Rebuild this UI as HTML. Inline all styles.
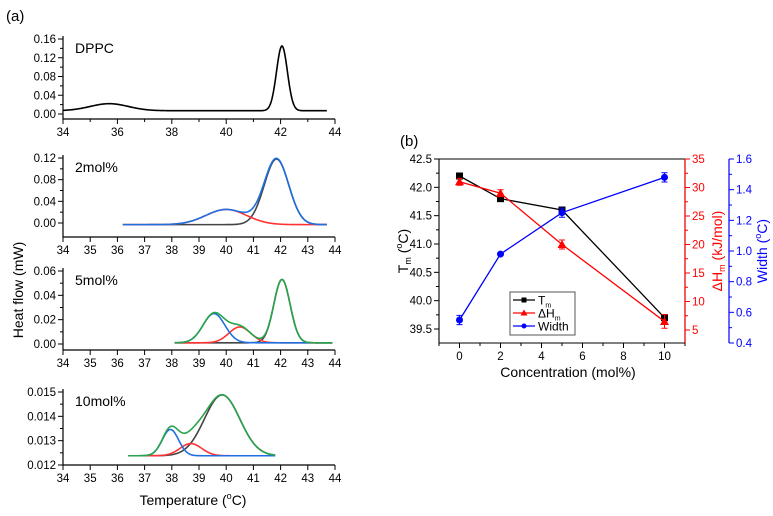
<!DOCTYPE html>
<html><head><meta charset="utf-8"><style>
html,body{margin:0;padding:0;background:#fff;}
svg{display:block;font-family:"Liberation Sans",Arial,sans-serif;}
</style></head><body>
<svg id="fig" width="773" height="516" viewBox="0 0 773 516" xmlns="http://www.w3.org/2000/svg">
<text x="6" y="21" font-size="15">(a)</text>
<text x="400" y="146" font-size="15">(b)</text>
<text transform="translate(23,290) rotate(-90)" text-anchor="middle" font-size="14">Heat flow (mW)</text>
<text x="193" y="505" text-anchor="middle" font-size="14">Temperature (<tspan font-size="9" dy="-6">o</tspan><tspan dy="6">C)</tspan></text>
<text x="568" y="377" text-anchor="middle" font-size="14">Concentration (mol%)</text>
<text transform="translate(408,251) rotate(-90)" text-anchor="middle" font-size="14">T<tspan font-size="9" dy="3">m</tspan><tspan dy="-3"> (</tspan><tspan font-size="9" dy="-6">o</tspan><tspan dy="6">C)</tspan></text>
<text transform="translate(722,251) rotate(-90)" text-anchor="middle" font-size="14" fill="#f00">ΔH<tspan font-size="9" dy="3">m</tspan><tspan dy="-3"> (kJ/mol)</tspan></text>
<text transform="translate(767,251) rotate(-90)" text-anchor="middle" font-size="14" fill="#00f">Width (<tspan font-size="9" dy="-6">o</tspan><tspan dy="6">C)</tspan></text>
</svg>
<script>
const NS='http://www.w3.org/2000/svg';
const svg=document.getElementById('fig');
function mk(tag,attrs,parent){const e=document.createElementNS(NS,tag);for(const k in attrs)e.setAttribute(k,attrs[k]);(parent||svg).appendChild(e);return e;}

// ---- Panel (a) data: Gaussian components [center, amplitude, sigma] ----
const dppcBaseline=0.007;
const dppcPeaks=[[35.7,0.015,0.7],[42.05,0.138,0.2]];
const dppcRange=[34,43.7];
const p2Baseline=-0.003;
const p2Red=[40.0,0.028,0.75];
const p2Gray=[41.85,0.121,0.45];
const p2Range=[36.2,43.7];
const p5Baseline=0.001;
const p5Blue=[39.55,0.024,0.4];
const p5Red=[40.5,0.013,0.4];
const p5Gray=[42.05,0.052,0.3];
const p5Range=[38.1,43.9];
const p10Baseline=0.01238;
const p10Blue=[37.95,0.00108,0.3];
const p10Red=[38.7,0.0005,0.4];
const p10Gray=[39.85,0.0025,0.65];
const p10Range=[36.4,41.8];

const dppcYTicks=['0.00','0.04','0.08','0.12','0.16'];
const p2YTicks=['0.00','0.04','0.08','0.12'];
const p5YTicks=['0.00','0.02','0.04','0.06'];
const p10YTicks=['0.012','0.013','0.014','0.015'];

const X0=63,X1=335;
function xs(t){return X0+(t-34)*(X1-X0)/10;}
function g(p,t){return p[1]*Math.exp(-Math.pow(t-p[0],2)/(2*p[2]*p[2]));}

function panel(name,yTop,yZero,vTop,vZero,axisY,yticks,xstep,label){
  const grp=mk('g',{});
  
  
  const ys=v=>yZero+(v-vZero)*(yTop-yZero)/(vTop-vZero);
  const ax=mk('path',{d:`M${X0},${yTop-3} V${axisY} H${X1}`,stroke:'#000','stroke-width':1.2,fill:'none'},grp);
  
  
  for(let t=34;t<=44;t+=1){
    const major=(t-34)%xstep===0;
    mk('line',{x1:xs(t),x2:xs(t),y1:axisY,y2:axisY+(major?5:3),stroke:'#000','stroke-width':1},grp);
    if(major){const tx=mk('text',{x:xs(t),y:axisY+17,'text-anchor':'middle','font-size':11.5},grp);tx.textContent=t;
      }
  }
  const dv=(vTop-vZero)/(yticks.length-1);
  yticks.forEach((lab,i)=>{
    const v=vZero+i*dv;
    mk('line',{x1:X0-5,x2:X0,y1:ys(v),y2:ys(v),stroke:'#000'},grp);
    if(i<yticks.length-1) mk('line',{x1:X0-3,x2:X0,y1:ys(v+dv/2),y2:ys(v+dv/2),stroke:'#000'},grp);
    const tx=mk('text',{x:X0-7,y:ys(v)+4,'text-anchor':'end','font-size':11.5},grp);tx.textContent=lab;
    
  });
  const lt=mk('text',{x:75,y:yTop+14,'font-size':14},grp);lt.textContent=label;
  
  return {grp,ys};
}
function curve(P,range,fn,color,nm){
  let d='';
  for(let t=range[0];t<=range[1]+1e-9;t+=0.02){d+=(d?'L':'M')+xs(t).toFixed(2)+','+P.ys(fn(t)).toFixed(2);}
  const p=mk('path',{d,stroke:color,'stroke-width':1.6,fill:'none'},P.grp);
  
  
}
let P=panel('panel-dppc',39,114,0.16,0,119,dppcYTicks,2,'DPPC');
curve(P,dppcRange,t=>dppcBaseline+g(dppcPeaks[0],t)+g(dppcPeaks[1],t),'#000','dppc-curve');
P=panel('panel-2mol',158,223,0.12,0,237,p2YTicks,1,'2mol%');
curve(P,p2Range,t=>p2Baseline+g(p2Gray,t),'#444','2mol-component-gray');
curve(P,p2Range,t=>p2Baseline+g(p2Red,t),'#f33','2mol-component-red');
curve(P,p2Range,t=>p2Baseline+g(p2Red,t)+g(p2Gray,t),'#1f6fe0','2mol-total-curve');
P=panel('panel-5mol',271,344,0.06,0,350,p5YTicks,1,'5mol%');
curve(P,p5Range,t=>p5Baseline+g(p5Gray,t),'#444','5mol-component-gray');
curve(P,p5Range,t=>p5Baseline+g(p5Red,t),'#f33','5mol-component-red');
curve(P,p5Range,t=>p5Baseline+g(p5Blue,t),'#1f6fe0','5mol-component-blue');
curve(P,p5Range,t=>p5Baseline+g(p5Blue,t)+g(p5Red,t)+g(p5Gray,t),'#2aa34a','5mol-total-curve');
P=panel('panel-10mol',392,465,0.015,0.012,465,p10YTicks,1,'10mol%');
curve(P,p10Range,t=>p10Baseline+g(p10Gray,t),'#444','10mol-component-gray');
curve(P,p10Range,t=>p10Baseline+g(p10Red,t),'#f33','10mol-component-red');
curve(P,p10Range,t=>p10Baseline+g(p10Blue,t),'#1f6fe0','10mol-component-blue');
curve(P,p10Range,t=>p10Baseline+g(p10Blue,t)+g(p10Red,t)+g(p10Gray,t),'#2aa34a','10mol-total-curve');

// ---- Panel (b) ----
const conc=[0,2,5,10];
const tmVals=[42.2,41.8,41.6,39.7];
const dhVals=[31,29,20,6.5];
const widthVals=[0.55,0.98,1.25,1.48];
const tmErr=[0.04,0.03,0.03,0.03];
const dhErr=[0.6,0.6,0.8,1.2];
const widthErr=[0.03,0.01,0.03,0.03];
const xTicksB=[0,2,4,6,8,10];
const tmTicks=['39.5','40.0','40.5','41.0','41.5','42.0','42.5'];
const dhTicks=['5','10','15','20','25','30','35'];
const wTicks=['0.4','0.6','0.8','1.0','1.2','1.4','1.6'];

const BL=439,BR=685,BT=159,BB=343,BW=729;
const bx=c=>BL+(c+1)*(BR-BL)/12;
const yTm=v=>329+(v-39.5)*(159-329)/3;
const yDh=v=>330+(v-5)*(159-330)/30;
const yW=v=>343+(v-0.4)*(159-343)/1.2;
const gb=mk('g',{});


mk('path',{d:`M${BL},${BB} V${BT} H${BR} V${BB} H${BL}`,stroke:'#000','stroke-width':1.1,fill:'none'},gb);
mk('line',{x1:BR,x2:BR,y1:BT,y2:BB,stroke:'#f00','stroke-width':1.2},gb);
mk('line',{x1:BW,x2:BW,y1:BT,y2:BB,stroke:'#00f','stroke-width':1.2},gb);
for(let c=-1;c<=11;c++){
  const major=xTicksB.includes(c);
  mk('line',{x1:bx(c),x2:bx(c),y1:BB,y2:BB+(major?5:3),stroke:'#000'},gb);
  if(major){const t=mk('text',{x:bx(c),y:BB+17,'text-anchor':'middle','font-size':11.5},gb);t.textContent=c;
    }
}
tmTicks.forEach((l,i)=>{const v=39.5+i*0.5,y=yTm(v);
  mk('line',{x1:BL-5,x2:BL,y1:y,y2:y,stroke:'#000'},gb);
  if(i<tmTicks.length-1) mk('line',{x1:BL-3,x2:BL,y1:yTm(v+0.25),y2:yTm(v+0.25),stroke:'#000'},gb);
  const t=mk('text',{x:BL-7,y:y+4,'text-anchor':'end','font-size':11.5},gb);t.textContent=l;
  });
dhTicks.forEach((l,i)=>{const v=5+i*5,y=yDh(v);
  mk('line',{x1:BR,x2:BR+5,y1:y,y2:y,stroke:'#f00'},gb);
  if(i<dhTicks.length-1) mk('line',{x1:BR,x2:BR+3,y1:yDh(v+2.5),y2:yDh(v+2.5),stroke:'#f00'},gb);
  const t=mk('text',{x:BR+7,y:y+4,'font-size':11.5,fill:'#f00'},gb);t.textContent=l;
  });
wTicks.forEach((l,i)=>{const v=0.4+i*0.2,y=yW(v);
  mk('line',{x1:BW,x2:BW+5,y1:y,y2:y,stroke:'#00f'},gb);
  if(i<wTicks.length-1) mk('line',{x1:BW,x2:BW+3,y1:yW(v+0.1),y2:yW(v+0.1),stroke:'#00f'},gb);
  const t=mk('text',{x:BW+7,y:y+4,'font-size':11.5,fill:'#00f'},gb);t.textContent=l;
  });

function series(vals,errs,ys,color,marker,nm){
  const d=conc.map((c,i)=>(i?'L':'M')+bx(c)+','+ys(vals[i])).join('');
  const p=mk('path',{d,stroke:color,'stroke-width':1.3,fill:'none'},gb);
  
  
  conc.forEach((c,i)=>{
    const x=bx(c),y=ys(vals[i]),y1=ys(vals[i]+errs[i]),y2=ys(vals[i]-errs[i]);
    mk('path',{d:`M${x},${y1}V${y2}M${x-3},${y1}H${x+3}M${x-3},${y2}H${x+3}`,stroke:color,'stroke-width':1},gb);
    let m;
    if(marker==='sq') m=mk('rect',{x:x-3.5,y:y-3.5,width:7,height:7,fill:color},gb);
    else if(marker==='tri') m=mk('path',{d:`M${x},${y-4.5}L${x+4.5},${y+3.5}L${x-4.5},${y+3.5}Z`,fill:color},gb);
    else m=mk('circle',{cx:x,cy:y,r:3.5,fill:color},gb);
    
    
  });
}
series(tmVals,tmErr,yTm,'#000','sq','tm');
series(dhVals,dhErr,yDh,'#f00','tri','dh');
series(widthVals,widthErr,yW,'#00f','ci','width');

const lg=mk('g',{});


mk('rect',{x:510,y:292,width:65,height:43,fill:'#fff',stroke:'#555','stroke-width':1},lg);
const legItems=[['#000','sq','T','m'],['#f00','tri','ΔH','m'],['#00f','ci','Width','']];
legItems.forEach((it,i)=>{
  const y=300+i*13;
  mk('line',{x1:513,x2:535,y1:y,y2:y,stroke:it[0],'stroke-width':1.2},lg);
  const x=524;
  if(it[1]==='sq') mk('rect',{x:x-2.5,y:y-2.5,width:5,height:5,fill:it[0]},lg);
  else if(it[1]==='tri') mk('path',{d:`M${x},${y-3.5}L${x+3.5},${y+2.5}L${x-3.5},${y+2.5}Z`,fill:it[0]},lg);
  else mk('circle',{cx:x,cy:y,r:2.5,fill:it[0]},lg);
  const t=mk('text',{x:538,y:y+4.5,'font-size':12},lg);
  t.textContent=it[2];
  if(it[3]){const s=mk('tspan',{'font-size':7,dy:3},t);s.textContent=it[3];}
  
  
});
</script>
</body></html>
